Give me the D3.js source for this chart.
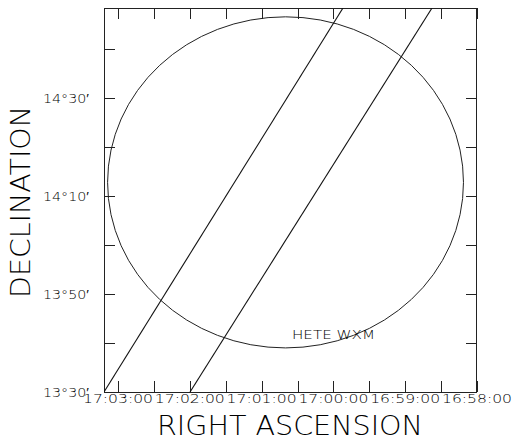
<!DOCTYPE html>
<html>
<head>
<meta charset="utf-8">
<script src="https://cdn.jsdelivr.net/npm/d3@7"></script>
<style>
  body { margin: 0; background: #fff; }
  svg { display: block; }
  text { font-family: "DejaVu Sans", sans-serif; font-weight: 200; fill: #000; }
</style>
</head>
<body>
<svg></svg>
<script>
//Chart values.
//Right ascension in "hh:mm:ss", declination in arcminutes.
var raLimits = ["17:03:11.7", "16:58:00"];
var decLimits = [810, 888.4];   // 13°30' .. 14°48.4'
var raLabels = ["17:03:00", "17:02:00", "17:01:00", "17:00:00", "16:59:00", "16:58:00"];
var raTicks = ["17:03:00", "17:02:30", "17:02:00", "17:01:30", "17:01:00", "17:00:30",
               "17:00:00", "16:59:30", "16:59:00", "16:58:30", "16:58:00"];
var decTicks = [810, 820, 830, 840, 850, 860, 870, 880];
var decLabels = ["13°30′", "13°50′", "14°10′", "14°30′"];
var decLabelValues = [810, 830, 850, 870];

//Error circle of the WXM, centre and half-widths.
var circleCenter = ["17:00:40", 852.8];
var circleRadiusRA = 148.7;   // seconds of time
var circleRadiusDec = 33.8;   // arcminutes
var circleLabel = "HETE WXM";
var circleLabelPos = ["17:00:34.6", 820.8];

//The two IPN annulus edges, as [ra, dec] end points.
var trackA = [["17:03:11.7", 810], ["16:59:52", 888.4]];
var trackB = [["17:01:59.8", 810], ["16:58:37.6", 888.4]];

//Turn "hh:mm:ss" into seconds.
function raSec(s) {
  var p = s.split(":").map(Number);
  return p[0] * 3600 + p[1] * 60 + p[2];
}

var w = 515, h = 440;
var svg = d3.select("svg").attr("width", w).attr("height", h);

var plotL = 104, plotR = 477, plotT = 8, plotB = 392;

var x = d3.scaleLinear().domain(raLimits.map(raSec)).range([plotL, plotR]);
var y = d3.scaleLinear().domain(decLimits).range([plotB, plotT]);

svg.append("defs").append("clipPath").attr("id", "plot")
  .append("rect").attr("x", plotL).attr("y", plotT)
  .attr("width", plotR - plotL).attr("height", plotB - plotT);

//Ticks on all four sides, pointing inward.
var tickLen = 11;
var raTickVals = raTicks.map(raSec);

function tidy(g) {
  g.select(".domain").remove();
  g.selectAll("line").attr("stroke", "#222").attr("shape-rendering", "crispEdges");
}

svg.append("g").attr("transform", "translate(0," + plotB + ")")
  .call(d3.axisBottom(x).tickValues(raTickVals).tickSize(-tickLen).tickFormat(""))
  .call(tidy);
svg.append("g").attr("transform", "translate(0," + plotT + ")")
  .call(d3.axisTop(x).tickValues(raTickVals).tickSize(-tickLen).tickFormat(""))
  .call(tidy);
svg.append("g").attr("transform", "translate(" + plotL + ",0)")
  .call(d3.axisLeft(y).tickValues(decTicks).tickSize(-tickLen).tickFormat(""))
  .call(tidy);
svg.append("g").attr("transform", "translate(" + plotR + ",0)")
  .call(d3.axisRight(y).tickValues(decTicks).tickSize(-tickLen).tickFormat(""))
  .call(tidy);

//Frame.
svg.append("rect")
  .attr("x", plotL + 0.5).attr("y", plotT + 0.5)
  .attr("width", plotR - plotL - 1).attr("height", plotB - plotT)
  .attr("fill", "none").attr("stroke", "#222").attr("shape-rendering", "crispEdges");

//Tick labels.
svg.append("g").selectAll("text")
  .data(raLabels)
  .enter().append("text")
    .attr("x", d => x(raSec(d)))
    .attr("y", plotB + 11)
    .attr("text-anchor", "middle")
    .attr("font-size", 11.5)
    .attr("textLength", 70)
    .attr("lengthAdjust", "spacingAndGlyphs")
    .text(d => d);

svg.append("g").selectAll("text")
  .data(decLabels)
  .enter().append("text")
    .attr("x", 43)
    .attr("y", (d, i) => y(decLabelValues[i]) + 4.5)
    .attr("font-size", 12)
    .attr("textLength", 46)
    .attr("lengthAdjust", "spacingAndGlyphs")
    .text(d => d);

//Axis titles.
svg.append("text")
  .attr("x", 157).attr("y", 435)
  .attr("font-size", 26)
  .attr("textLength", 266)
  .attr("lengthAdjust", "spacingAndGlyphs")
  .text("RIGHT ASCENSION");

svg.append("text")
  .attr("transform", "translate(30,298) rotate(-90)")
  .attr("font-size", 27)
  .attr("textLength", 192)
  .attr("lengthAdjust", "spacingAndGlyphs")
  .text("DECLINATION");

//Plot contents.
var plot = svg.append("g").attr("clip-path", "url(#plot)");

var cx = raSec(circleCenter[0]);
plot.append("ellipse")
  .attr("cx", x(cx))
  .attr("cy", y(circleCenter[1]))
  .attr("rx", Math.abs(x(cx + circleRadiusRA) - x(cx)))
  .attr("ry", Math.abs(y(circleCenter[1] + circleRadiusDec) - y(circleCenter[1])))
  .attr("fill", "none").attr("stroke", "#222").attr("stroke-width", 1);

var line = d3.line().x(d => x(raSec(d[0]))).y(d => y(d[1]));
plot.selectAll("path.track")
  .data([trackA, trackB])
  .enter().append("path")
    .attr("class", "track")
    .attr("d", line)
    .attr("fill", "none").attr("stroke", "#111").attr("stroke-width", 1.1);

svg.append("text")
  .attr("x", x(raSec(circleLabelPos[0])))
  .attr("y", y(circleLabelPos[1]))
  .attr("font-size", 13)
  .attr("textLength", 83)
  .attr("lengthAdjust", "spacingAndGlyphs")
  .text(circleLabel);
</script>
</body>
</html>
